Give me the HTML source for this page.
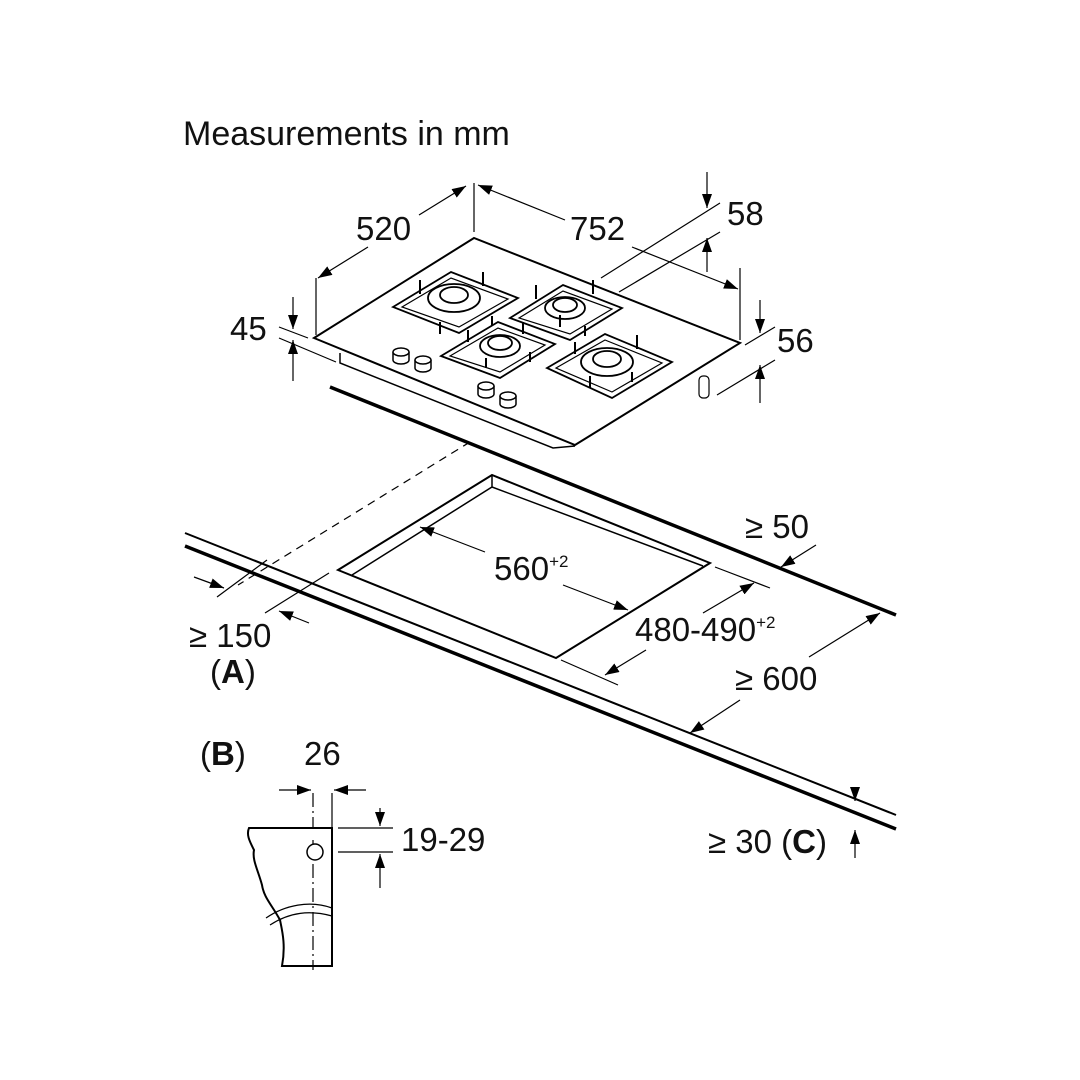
<!DOCTYPE html>
<html><head><meta charset="utf-8"><style>
html,body{margin:0;padding:0;background:#fff;}
svg{display:block}
text{font-family:"Liberation Sans",Arial,sans-serif;fill:#111;}
</style></head><body>
<svg width="1080" height="1080" viewBox="0 0 1080 1080" xmlns="http://www.w3.org/2000/svg">
<defs>
<marker id="a" viewBox="0 0 14 10" refX="14" refY="5" markerWidth="14" markerHeight="10" markerUnits="userSpaceOnUse" orient="auto"><path d="M0,0 L14,5 L0,10 z" fill="#000"/></marker>
</defs>
<rect width="1080" height="1080" fill="#fff"/>
<text x="183" y="145" font-size="34">Measurements in mm</text>

<g stroke="#000" fill="none" stroke-width="1.2">
<path d="M340,353 L340,363 L553,448 L575,446" stroke-width="1.5"/>
<path d="M314,338 L474,238 L740,343 L575,445 Z" stroke-width="2" fill="#fff"/>
<rect x="699" y="376" width="10" height="22" rx="4" fill="#fff"/>
<g fill="#fff" stroke-width="1.5">
<path d="M393,352 v8 a8,4 0 0 0 16,0 v-8"/><ellipse cx="401" cy="352" rx="8" ry="4"/>
<path d="M415,360 v8 a8,4 0 0 0 16,0 v-8"/><ellipse cx="423" cy="360" rx="8" ry="4"/>
<path d="M478,386 v8 a8,4 0 0 0 16,0 v-8"/><ellipse cx="486" cy="386" rx="8" ry="4"/>
<path d="M500,396 v8 a8,4 0 0 0 16,0 v-8"/><ellipse cx="508" cy="396" rx="8" ry="4"/>
</g>
<g stroke-width="1.8" fill="#fff">
<path d="M393,307 L451,272 L518,298 L459,333 Z"/><path d="M402,307 L451,278 L508,299 L459,327 Z" stroke-width="1.2"/>
<ellipse cx="454" cy="298" rx="26" ry="14"/><ellipse cx="454" cy="295" rx="14" ry="8"/>
<path d="M510,318 L563,285 L622,308 L570,340 Z"/><path d="M519,318 L563,291 L612,309 L570,334 Z" stroke-width="1.2"/>
<ellipse cx="565" cy="308" rx="20" ry="11"/><ellipse cx="565" cy="305" rx="12" ry="7"/>
<path d="M441,356 L498,322 L555,344 L500,378 Z"/><path d="M450,356 L498,328 L545,345 L500,372 Z" stroke-width="1.2"/>
<ellipse cx="500" cy="346" rx="20" ry="11"/><ellipse cx="500" cy="343" rx="12" ry="7"/>
<path d="M547,368 L605,334 L672,362 L612,398 Z"/><path d="M556,368 L605,340 L662,363 L612,392 Z" stroke-width="1.2"/>
<ellipse cx="607" cy="362" rx="26" ry="14"/><ellipse cx="607" cy="359" rx="14" ry="8"/>
</g>
<g stroke-width="2">
<path d="M420,280 v14 M483,272 v14 M440,322 v12 M492,316 v10"/>
<path d="M536,285 v14 M593,280 v14 M560,315 v12 M585,326 v10"/>
<path d="M468,330 v12 M523,322 v12 M486,358 v10 M530,352 v10"/>
<path d="M575,342 v12 M637,335 v14 M590,376 v12 M632,372 v10"/>
</g>

<path d="M474,183 V232"/>
<path d="M316,278 V335 M740,268 V340"/>
<path d="M419,215 L466,186" marker-end="url(#a)"/>
<path d="M368,247 L318,278" marker-end="url(#a)"/>
<path d="M565,220 L478,185" marker-end="url(#a)"/>
<path d="M632,247 L738,289" marker-end="url(#a)"/>
<path d="M601,278 L720,203 M619,292 L720,232"/>
<path d="M707,172 V208" marker-end="url(#a)"/>
<path d="M707,272 V238" marker-end="url(#a)"/>
<path d="M745,345 L775,327 M717,395 L775,360"/>
<path d="M760,300 V333" marker-end="url(#a)"/>
<path d="M760,403 V365" marker-end="url(#a)"/>
<path d="M279,327 L308,338 M279,338 L336,362"/>
<path d="M293,297 V329" marker-end="url(#a)"/>
<path d="M293,381 V340" marker-end="url(#a)"/>

<path d="M330,387 L896,615" stroke-width="3.5"/>
<path d="M185,533 L896,815" stroke-width="2"/>
<path d="M185,546 L896,829" stroke-width="3.5"/>
<path d="M470,442 L238,585" stroke-dasharray="8,6"/>
<path d="M338,570 L492,475 L710,563 L556,658 Z" stroke-width="2"/>
<path d="M352,575 L492,487 L703,566 M492,475 V487" stroke-width="1.5"/>
<path d="M485,552 L420,527" marker-end="url(#a)"/>
<path d="M563,585 L628,610" marker-end="url(#a)"/>
<path d="M715,567 L770,588 M561,660 L618,685"/>
<path d="M703,613 L754,583" marker-end="url(#a)"/>
<path d="M646,650 L605,675" marker-end="url(#a)"/>
<path d="M816,545 L781,567" marker-end="url(#a)"/>
<path d="M809,657 L880,613" marker-end="url(#a)"/>
<path d="M740,700 L690,733" marker-end="url(#a)"/>
<path d="M217,597 L267,560 M265,613 L329,573"/>
<path d="M194,577 L224,588" marker-end="url(#a)"/>
<path d="M309,623 L279,611" marker-end="url(#a)"/>
<path d="M855,790 V801" marker-end="url(#a)"/>
<path d="M855,858 V830" marker-end="url(#a)"/>

<path d="M313,793 V970" stroke-dasharray="14,4,2,4"/>
<path d="M332,793 V828"/>
<path d="M279,790 L311,790" marker-end="url(#a)"/>
<path d="M366,790 L334,790" marker-end="url(#a)"/>
<path d="M338,828 H393 M338,852 H393"/>
<path d="M380,808 V826" marker-end="url(#a)"/>
<path d="M380,888 V854" marker-end="url(#a)"/>
<path d="M296,852 H330" stroke-dasharray="6,4"/>
<path d="M249,828 H332 V966 H282 C286,945 282,930 280,920 C272,905 264,898 262,885 C258,870 252,860 254,850 C250,842 246,835 249,828 Z" stroke-width="2" fill="#fff"/>
<path d="M313,840 V966" stroke-dasharray="14,4,2,4"/>
<path d="M266,918 C285,905 310,900 332,908 M270,925 C290,912 310,910 332,916"/>
<circle cx="315" cy="852" r="8" fill="#fff" stroke-width="1.5"/>
</g>

<g font-size="33">
<text x="356" y="240">520</text>
<text x="570" y="240">752</text>
<text x="727" y="225">58</text>
<text x="777" y="352">56</text>
<text x="230" y="340">45</text>
<text x="494" y="580">560<tspan font-size="17" dy="-13">+2</tspan></text>
<text x="635" y="641">480-490<tspan font-size="17" dy="-13">+2</tspan></text>
<text x="745" y="538">≥ 50</text>
<text x="735" y="690">≥ 600</text>
<text x="189" y="647">≥ 150</text>
<text x="210" y="683">(<tspan font-weight="bold">A</tspan>)</text>
<text x="200" y="765">(<tspan font-weight="bold">B</tspan>)</text>
<text x="304" y="765">26</text>
<text x="401" y="851">19-29</text>
<text x="708" y="853">≥ 30 (<tspan font-weight="bold">C</tspan>)</text>
</g>
</svg>
</body></html>
